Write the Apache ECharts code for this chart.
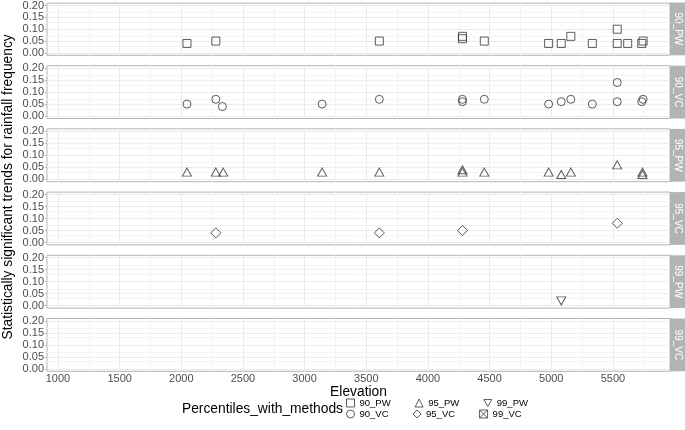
<!DOCTYPE html>
<html><head><meta charset="utf-8">
<script src="https://cdn.jsdelivr.net/npm/echarts@6/dist/echarts.min.js"></script>
<style>html,body{margin:0;padding:0;background:#fff}#c{width:685px;height:430px}</style>
</head><body><div id="c"></div>
<script>
// ---- data ----
const panels = ['90_PW','90_VC','95_PW','95_VC','99_PW','99_VC'];
const elev_90_PW = [2046, 2280, 3606, 4280, 4280, 4457, 4979, 5081, 5159, 5333, 5535, 5535, 5620, 5734, 5745];
const freq_90_PW = [0.04, 0.05, 0.05, 0.07, 0.06, 0.05, 0.04, 0.04, 0.07, 0.04, 0.10, 0.04, 0.04, 0.04, 0.05];
const elev_90_VC = [2046, 2280, 2333, 3142, 3606, 4280, 4280, 4457, 4979, 5081, 5159, 5333, 5535, 5535, 5734, 5745];
const freq_90_VC = [0.05, 0.07, 0.04, 0.05, 0.07, 0.07, 0.06, 0.07, 0.05, 0.06, 0.07, 0.05, 0.14, 0.06, 0.06, 0.07];
const elev_95_PW = [2046, 2280, 2340, 3142, 3606, 4280, 4280, 4457, 4979, 5081, 5159, 5535, 5740, 5740];
const freq_95_PW = [0.03, 0.03, 0.03, 0.03, 0.03, 0.04, 0.03, 0.03, 0.03, 0.02, 0.03, 0.06, 0.03, 0.02];
const elev_95_VC = [2280, 3606, 4280, 5535];
const freq_95_VC = [0.04, 0.04, 0.05, 0.08];
const elev_99_PW = [5081];
const freq_99_PW = [0.02];
const elev_99_VC = [];
const freq_99_VC = [];
const xMajor = [1000, 1500, 2000, 2500, 3000, 3500, 4000, 4500, 5000, 5500];
const xMinor = [1250, 1750, 2250, 2750, 3250, 3750, 4250, 4750, 5250, 5750];
const yMajor = [0, 0.05, 0.10, 0.15, 0.20];
const yMinor = [0.025, 0.075, 0.125, 0.175];
const X_MIN = 911, X_MAX = 5963, Y_MIN = -0.01, Y_MAX = 0.21;

const elevs = [elev_90_PW, elev_90_VC, elev_95_PW, elev_95_VC, elev_99_PW, elev_99_VC];
const freqs = [freq_90_PW, freq_90_VC, freq_95_PW, freq_95_VC, freq_99_PW, freq_99_VC];

// ---- styling ----
const FONT = '"Liberation Sans", Arial, Helvetica, sans-serif';
const boxX = 'path://M0,0L10,0L10,10L0,10ZM0,0L10,10M10,0L0,10';
const downTri = 'path://M0,0L10,0L5,8.66Z';
const symbols = [
  {symbol:'rect', size:8},
  {symbol:'circle', size:8},
  {symbol:'triangle', size:[9,8]},
  {symbol:'diamond', size:[10,10]},
  {symbol:downTri, size:[9,8]},
  {symbol:boxX, size:8}
];
const LEFT = 47, WIDTH = 623, TOP0 = 2.5, PITCH = 63.2, H = 52.8, STRIP = 15;
const PT = '#333333';

const grids = [], xAxes = [], yAxes = [], series = [], graphics = [];
const gridCol = '#EBEBEB', minorCol = '#F4F4F4';

panels.forEach((p, i) => {
  const top = TOP0 + PITCH * i;
  const last = i === panels.length - 1;
  grids.push({left: LEFT, width: WIDTH, top: top, height: H, show: true,
    borderColor: '#B3B3B3', borderWidth: 1, backgroundColor: 'transparent'});
  xAxes.push({gridIndex: i, type: 'value', min: X_MIN, max: X_MAX, splitNumber: 10,
    axisLine: {show: false}, splitLine: {show: false},
    axisTick: {show: last, length: 2, lineStyle: {color: '#B3B3B3'}},
    axisLabel: {show: last, showMinLabel: false, showMaxLabel: false, color: '#4D4D4D',
      fontSize: 11, fontFamily: FONT, margin: 2, formatter: v => String(Math.round(v))},
    name: last ? 'Elevation' : '', nameLocation: 'middle', nameGap: 14,
    nameTextStyle: {fontSize: 13.8, color: '#000', fontFamily: FONT}});
  yAxes.push({gridIndex: i, type: 'value', min: Y_MIN, max: Y_MAX, splitNumber: 5,
    axisLine: {show: false}, splitLine: {show: false},
    axisTick: {show: true, length: 2, lineStyle: {color: '#B3B3B3'}},
    axisLabel: {showMinLabel: false, showMaxLabel: false, color: '#4D4D4D',
      fontSize: 11, fontFamily: FONT, margin: 3, formatter: v => v.toFixed(2)}});
  // gridlines
  const ml = [];
  xMinor.forEach(v => ml.push({xAxis: v, lineStyle: {color: minorCol, width: 1, type: 'solid'}}));
  yMinor.forEach(v => ml.push({yAxis: v, lineStyle: {color: minorCol, width: 1, type: 'solid'}}));
  xMajor.forEach(v => ml.push({xAxis: v, lineStyle: {color: gridCol, width: 1, type: 'solid'}}));
  yMajor.forEach(v => ml.push({yAxis: v, lineStyle: {color: gridCol, width: 1, type: 'solid'}}));
  series.push({type: 'scatter', xAxisIndex: i, yAxisIndex: i, data: [], silent: true, z: 1,
    markLine: {silent: true, symbol: ['none', 'none'], label: {show: false}, animation: false,
      z: 1, emphasis: {disabled: true}, data: ml}});
  // points
  const s = symbols[i];
  series.push({type: 'scatter', name: p, xAxisIndex: i, yAxisIndex: i, z: 3,
    data: elevs[i].map((e, k) => [e, freqs[i][k]]),
    symbol: s.symbol, symbolSize: s.size,
    itemStyle: {color: 'rgba(0,0,0,0)', borderColor: PT, borderWidth: 1}});
  // strip
  graphics.push({type: 'rect', shape: {x: LEFT + WIDTH, y: top, width: STRIP, height: H},
    style: {fill: '#B3B3B3'}, silent: true});
  graphics.push({type: 'text', x: LEFT + WIDTH + STRIP / 2, y: top + H / 2, rotation: -Math.PI / 2,
    style: {text: p, fill: '#FFFFFF', font: '10px ' + FONT, align: 'center', verticalAlign: 'middle'}, silent: true});
});

graphics.push({type: 'text', x: 8, y: TOP0 + (PITCH * 5 + H) / 2, rotation: Math.PI / 2,
  style: {text: 'Statistically significant trends for rainfall frequency', fill: '#000',
    font: '13.8px ' + FONT, align: 'center', verticalAlign: 'middle'}, silent: true});
graphics.push({type: 'text', x: 343, y: 409,
  style: {text: 'Percentiles_with_methods', fill: '#000', font: '13.8px ' + FONT,
    align: 'right', verticalAlign: 'middle'}, silent: true});

const legendCommon = {orient: 'horizontal', left: 346, itemWidth: 8, itemHeight: 8, itemGap: 24,
  padding: 0, selectedMode: false,
  itemStyle: {color: 'rgba(0,0,0,0)', borderColor: PT, borderWidth: 1},
  textStyle: {fontSize: 9.5, color: '#000', fontFamily: FONT, width: 30}};
const legItem = i => ({name: panels[i], icon: symbols[i].symbol});

const option = {
  animation: false,
  backgroundColor: '#ffffff',
  grid: grids, xAxis: xAxes, yAxis: yAxes, series: series,
  legend: [
    Object.assign({}, legendCommon, {top: 398, data: [legItem(0), legItem(2), legItem(4)]}),
    Object.assign({}, legendCommon, {top: 409, data: [legItem(1), legItem(3), legItem(5)]})
  ],
  graphic: graphics
};
const chart = echarts.init(document.getElementById('c'), null, {renderer: 'canvas'});
chart.setOption(option);
</script></body></html>
